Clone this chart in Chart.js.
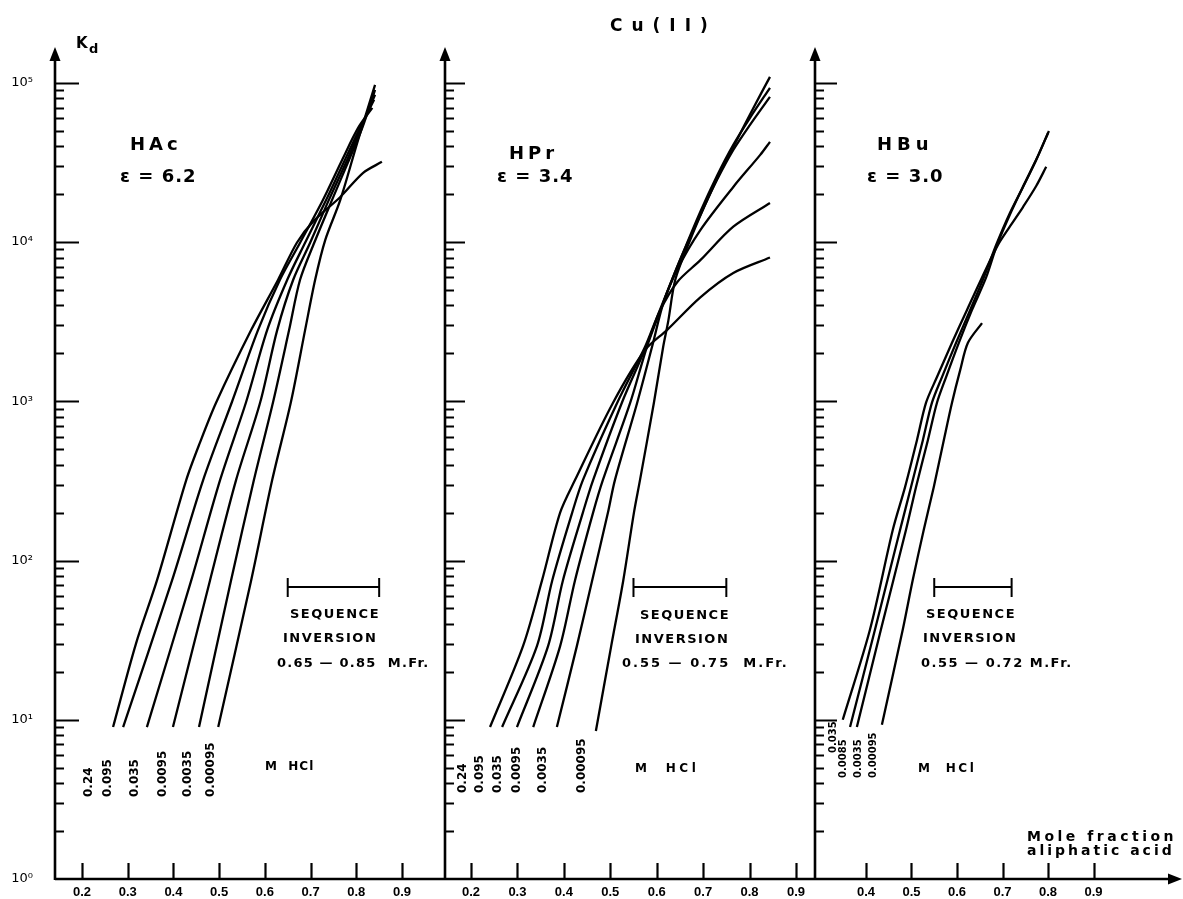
<!DOCTYPE html>
<html>
<head>
<meta charset="utf-8">
<script src="https://cdn.jsdelivr.net/npm/chart.js@4.4.0/dist/chart.umd.min.js"></script>
<style>
  html, body { margin: 0; padding: 0; background: #fff; }
  #wrap { position: relative; width: 1183px; height: 899px; }
  #wrap canvas { position: absolute; left: 0; top: 0; }
</style>
</head>
<body>
<div id="wrap">
  <canvas id="hac" width="1183" height="899"></canvas>
  <canvas id="hpr" width="1183" height="899"></canvas>
  <canvas id="hbu" width="1183" height="899"></canvas>
</div>
<script>
// Kd decades shown on the log axis
const kdTicks = [1, 10, 100, 1000, 10000, 100000];

// HAc, eps = 6.2  (one row per HCl molarity)
const hacHcl = ["0.24", "0.095", "0.035", "0.0095", "0.0035", "0.00095"];
const hacMoleFr = [
  [0.268, 0.318, 0.364, 0.428, 0.458, 0.494, 0.570, 0.629, 0.670, 0.705, 0.765, 0.815, 0.856],
  [0.290, 0.397, 0.465, 0.528, 0.585, 0.633, 0.677, 0.727, 0.769, 0.804, 0.835],
  [0.342, 0.439, 0.502, 0.559, 0.605, 0.649, 0.688, 0.734, 0.775, 0.808, 0.839],
  [0.399, 0.480, 0.537, 0.590, 0.627, 0.662, 0.699, 0.740, 0.780, 0.810, 0.841],
  [0.456, 0.526, 0.576, 0.618, 0.653, 0.677, 0.708, 0.747, 0.784, 0.813, 0.841],
  [0.498, 0.570, 0.616, 0.657, 0.688, 0.710, 0.732, 0.765, 0.802, 0.841]
];
const hacKd = [
  [9, 30, 75, 320, 550, 990, 2800, 5800, 9900, 13400, 19200, 27200, 31900],
  [9, 75, 320, 990, 2800, 5800, 9900, 18400, 32800, 52100, 69700],
  [9, 75, 320, 990, 2800, 5800, 9900, 18400, 32800, 52100, 78200],
  [9, 75, 320, 990, 2800, 5800, 9900, 18400, 32800, 52100, 84100],
  [9, 75, 320, 990, 2800, 5800, 9900, 18400, 32800, 52100, 90400],
  [9, 75, 320, 990, 2800, 5800, 10300, 18400, 42000, 97100]
];
const hacXTicks = [0.2, 0.3, 0.4, 0.5, 0.6, 0.7, 0.8, 0.9];
const hacInversion = [0.65, 0.85];

// HPr, eps = 3.4
const hprHcl = ["0.24", "0.095", "0.035", "0.0095", "0.0035", "0.00095"];
const hprMoleFr = [
  [0.241, 0.312, 0.353, 0.392, 0.424, 0.506, 0.575, 0.622, 0.694, 0.765, 0.844],
  [0.267, 0.342, 0.375, 0.418, 0.441, 0.515, 0.575, 0.607, 0.644, 0.694, 0.765, 0.844],
  [0.299, 0.366, 0.398, 0.441, 0.463, 0.525, 0.577, 0.607, 0.644, 0.694, 0.765, 0.823, 0.844],
  [0.334, 0.392, 0.424, 0.463, 0.484, 0.543, 0.579, 0.612, 0.650, 0.694, 0.730, 0.765, 0.801, 0.844],
  [0.385, 0.428, 0.461, 0.495, 0.510, 0.558, 0.590, 0.616, 0.655, 0.694, 0.730, 0.765, 0.801, 0.844],
  [0.469, 0.502, 0.528, 0.551, 0.564, 0.594, 0.614, 0.625, 0.640, 0.672, 0.704, 0.737, 0.773, 0.806, 0.844]
];
const hprKd = [
  [9, 29, 75, 200, 320, 980, 2100, 2800, 4500, 6400, 8000],
  [9, 29, 75, 200, 320, 980, 2200, 3700, 5600, 7700, 12500, 17600],
  [9, 29, 75, 200, 320, 980, 2200, 3750, 6700, 11900, 22200, 35300, 42600],
  [9, 29, 75, 200, 320, 980, 2200, 4000, 7700, 14800, 24600, 37900, 54500, 81700],
  [9, 29, 75, 200, 320, 980, 2200, 4300, 8300, 15500, 26100, 40800, 60300, 93100],
  [8.5, 29, 75, 200, 320, 980, 2200, 3200, 5800, 10300, 17100, 27600, 43900, 67600, 109000]
];
const hprXTicks = [0.2, 0.3, 0.4, 0.5, 0.6, 0.7, 0.8, 0.9];
const hprInversion = [0.55, 0.75];

// HBu, eps = 3.0
const hbuHcl = ["0.035", "0.0085", "0.0035", "0.00095"];
const hbuMoleFr = [
  [0.349, 0.409, 0.459, 0.486, 0.512, 0.532, 0.556, 0.589, 0.622, 0.655, 0.690, 0.716, 0.745, 0.774, 0.796],
  [0.365, 0.420, 0.475, 0.499, 0.525, 0.545, 0.567, 0.598, 0.629, 0.659, 0.686, 0.716, 0.745, 0.774, 0.800],
  [0.380, 0.433, 0.488, 0.510, 0.536, 0.556, 0.576, 0.604, 0.633, 0.664, 0.688, 0.719, 0.747, 0.776, 0.802],
  [0.435, 0.481, 0.503, 0.527, 0.549, 0.571, 0.589, 0.607, 0.624, 0.655]
];
const hbuKd = [
  [10, 37, 156, 290, 570, 980, 1420, 2330, 3750, 6000, 9600, 12500, 16600, 22500, 29700],
  [9, 37, 156, 290, 570, 980, 1420, 2330, 3750, 6000, 9600, 15200, 22200, 32800, 48500],
  [9, 37, 156, 290, 570, 980, 1420, 2330, 3750, 6000, 9600, 15500, 22900, 33800, 49900],
  [9.3, 37, 76, 156, 290, 570, 980, 1570, 2330, 3100]
];
const hbuXTicks = [0.4, 0.5, 0.6, 0.7, 0.8, 0.9];
const hbuInversion = [0.55, 0.72];

const SUP = ["⁰", "¹", "²", "³", "⁴", "⁵"];
const FONT = '"DejaVu Sans", sans-serif';

function say(ctx, s, x, y, size, spacing, weight) {
  ctx.font = (weight || "bold") + " " + size + "px " + FONT;
  ctx.letterSpacing = (spacing || 0) + "px";
  ctx.textAlign = "left";
  ctx.textBaseline = "alphabetic";
  ctx.fillText(s, x, y);
}

function decor(p) {
  return {
    id: "decor",
    afterDraw(chart) {
      const ctx = chart.ctx, xs = chart.scales.x, ys = chart.scales.y, a = chart.chartArea;
      ctx.save();
      ctx.strokeStyle = "#000";
      ctx.fillStyle = "#000";

      // vertical axis + arrow head
      ctx.lineWidth = 2.6;
      ctx.beginPath(); ctx.moveTo(a.left, a.bottom + 1); ctx.lineTo(a.left, a.top + 6); ctx.stroke();
      ctx.beginPath();
      ctx.moveTo(a.left, a.top - 4); ctx.lineTo(a.left - 5.5, a.top + 10); ctx.lineTo(a.left + 5.5, a.top + 10);
      ctx.closePath(); ctx.fill();

      // decade and minor ticks, pointing inwards
      ctx.lineWidth = 2;
      for (let e = 0; e <= 5; e++) {
        for (let m = 1; m <= 9; m++) {
          if (e === 0 && m === 1) continue;
          if (e === 5 && m > 1) break;
          const y = Math.round(ys.getPixelForValue(m * Math.pow(10, e))) + 0.5;
          ctx.beginPath(); ctx.moveTo(a.left, y); ctx.lineTo(a.left + (m === 1 ? p.majorTick : 9), y); ctx.stroke();
        }
      }

      // horizontal axis
      ctx.lineWidth = 2.6;
      ctx.beginPath(); ctx.moveTo(a.left, a.bottom); ctx.lineTo(a.right, a.bottom); ctx.stroke();
      if (p.arrowX) {
        ctx.beginPath();
        ctx.moveTo(a.right + 12, a.bottom); ctx.lineTo(a.right - 2, a.bottom - 5.5); ctx.lineTo(a.right - 2, a.bottom + 5.5);
        ctx.closePath(); ctx.fill();
      }
      ctx.lineWidth = 2.2;
      xs.ticks.forEach(t => {
        const x = Math.round(xs.getPixelForValue(t.value)) + 0.5;
        ctx.beginPath(); ctx.moveTo(x, a.bottom); ctx.lineTo(x, a.bottom - 16); ctx.stroke();
      });

      // sequence inversion bracket
      const b0 = xs.getPixelForValue(p.inversion[0]), b1 = xs.getPixelForValue(p.inversion[1]);
      ctx.lineWidth = 2;
      ctx.beginPath();
      ctx.moveTo(b0, 587); ctx.lineTo(b1, 587);
      ctx.moveTo(b0, 578); ctx.lineTo(b0, 597);
      ctx.moveTo(b1, 578); ctx.lineTo(b1, 597);
      ctx.stroke();

      // text notes
      p.notes.forEach(n => say(ctx, n[0], n[1], n[2], n[3], n[4]));

      // rotated HCl molarity labels at the foot of each curve
      ctx.font = "bold " + p.rot.size + "px " + FONT;
      ctx.letterSpacing = "0px";
      ctx.textAlign = "left";
      ctx.textBaseline = "middle";
      p.hcl.forEach((lab, i) => {
        ctx.save();
        ctx.translate(p.rot.x[i], p.rot.y[i]);
        ctx.rotate(-Math.PI / 2);
        ctx.fillText(lab, 0, 0);
        ctx.restore();
      });
      ctx.restore();
    }
  };
}

function makePanel(id, p) {
  const datasets = p.hcl.map((lab, i) => ({
    label: lab + " M HCl",
    data: p.moleFr[i].map((v, j) => ({ x: v, y: p.kd[i][j] })),
    borderColor: "#000",
    borderWidth: 2.3,
    pointRadius: 0,
    fill: false,
    tension: 0.3
  }));
  return new Chart(document.getElementById(id), {
    type: "line",
    data: { datasets },
    options: {
      responsive: false,
      animation: false,
      events: [],
      layout: { padding: { left: p.padLeft, right: p.padRight, top: 51, bottom: 0 } },
      plugins: { legend: { display: false }, tooltip: { enabled: false } },
      scales: {
        x: {
          type: "linear", bounds: "data", min: p.xMin, max: p.xMax,
          afterFit: s => { s.height = 20; s.paddingLeft = 0; s.paddingRight = 0; },
          afterBuildTicks: s => { s.ticks = p.xTicks.map(v => ({ value: v })); },
          grid: { display: false, drawTicks: false },
          border: { display: false },
          ticks: {
            padding: 6, color: "#000", autoSkip: false, maxRotation: 0,
            font: { family: '"Liberation Sans", sans-serif', size: 13, weight: "bold" },
            callback: v => v.toFixed(1)
          }
        },
        y: {
          type: "logarithmic", bounds: "data", min: 1, max: 158489,
          afterFit: s => { s.width = p.yWidth; s.paddingTop = 0; s.paddingBottom = 0; },
          afterBuildTicks: s => { s.ticks = kdTicks.map(v => ({ value: v })); },
          grid: { display: false, drawTicks: false },
          border: { display: false },
          ticks: {
            display: p.yLabels, padding: 22, color: "#000",
            font: { family: FONT, size: 13 },
            callback: v => "10" + SUP[Math.round(Math.log10(v))]
          }
        }
      }
    },
    plugins: [decor(p)]
  });
}

makePanel("hac", {
  hcl: hacHcl, moleFr: hacMoleFr, kd: hacKd, xTicks: hacXTicks, inversion: hacInversion,
  xMin: 0.141, xMax: 0.994, padLeft: 0, padRight: 738, yWidth: 55, yLabels: true, majorTick: 24,
  rot: { size: 12, x: [89, 108, 135, 163, 188, 211], y: [797, 797, 797, 797, 797, 797] },
  notes: [
    ["K", 76, 48, 15, 0], ["d", 89, 53, 13, 0],
    ["HAc", 130, 150, 18, 4], ["ε = 6.2", 120, 182, 18, 1],
    ["SEQUENCE", 290, 618, 13, 1.5], ["INVERSION", 283, 642, 13, 1.5],
    ["0.65 — 0.85  M.Fr.", 277, 667, 13, 1.2], ["M  HCl", 265, 770, 12, 1]
  ]
});

makePanel("hpr", {
  hcl: hprHcl, moleFr: hprMoleFr, kd: hprKd, xTicks: hprXTicks, inversion: hprInversion,
  xMin: 0.144, xMax: 0.941, padLeft: 445, padRight: 368, yWidth: 0, yLabels: false, majorTick: 20,
  rot: { size: 12, x: [463, 480, 498, 517, 543, 582], y: [793, 793, 793, 793, 793, 793] },
  notes: [
    ["Cu(II)", 610, 31, 17, 9],
    ["HPr", 509, 159, 18, 4], ["ε = 3.4", 497, 182, 18, 1],
    ["SEQUENCE", 640, 619, 13, 1.5], ["INVERSION", 635, 643, 13, 1.5],
    ["0.55 — 0.75  M.Fr.", 622, 667, 13, 2], ["M  HCl", 635, 772, 12, 3.5]
  ]
});

makePanel("hbu", {
  hcl: hbuHcl, moleFr: hbuMoleFr, kd: hbuKd, xTicks: hbuXTicks, inversion: hbuInversion,
  xMin: 0.288, xMax: 1.068, padLeft: 815, padRight: 13, yWidth: 0, yLabels: false, majorTick: 22,
  arrowX: true,
  rot: { size: 10, x: [833, 843, 858, 873], y: [753, 778, 778, 778] },
  notes: [
    ["HBu", 877, 150, 18, 5], ["ε = 3.0", 867, 182, 18, 1],
    ["SEQUENCE", 926, 618, 13, 1.5], ["INVERSION", 923, 642, 13, 1.5],
    ["0.55 — 0.72 M.Fr.", 921, 667, 13, 1.5], ["M  HCl", 918, 772, 12, 2.5],
    ["Mole fraction", 1027, 841, 14, 3.5], ["aliphatic acid", 1027, 855, 14, 3]
  ]
});
</script>
</body>
</html>
